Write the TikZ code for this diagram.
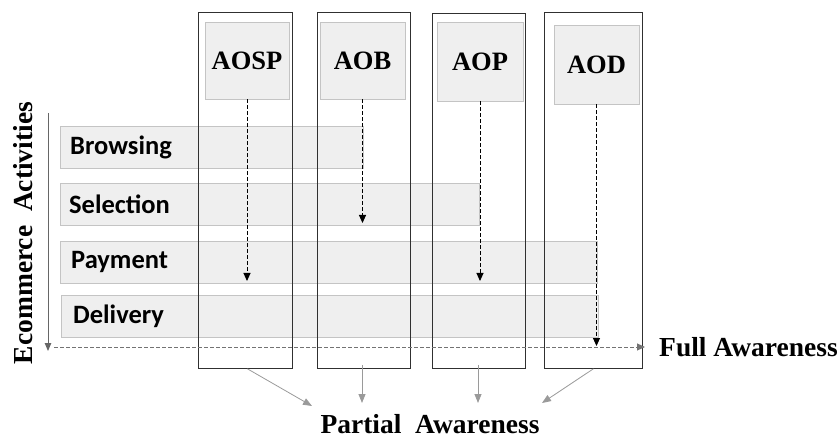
\documentclass[tikz,border=0pt]{standalone}
\usepackage{fontspec}
\setmainfont{Liberation Serif}
\newfontfamily\labfont{Carlito}
\usetikzlibrary{arrows.meta}
\definecolor{barfill}{HTML}{EFEFEF}
\definecolor{barline}{HTML}{C4C4C4}
\definecolor{colline}{HTML}{303030}
\definecolor{arrgray}{HTML}{9A9A9A}
\begin{document}
\begin{tikzpicture}[x=1pt,y=-1pt,
  colbox/.style={draw=colline,line width=0.8pt,fill=none,minimum height=356pt,inner sep=0pt,anchor=north west},
  aobox/.style={draw=barline,fill=barfill,line width=0.8pt,inner sep=0pt,minimum height=77pt,font=\bfseries\fontsize{26.5}{30}\selectfont},
  barbox/.style={draw=barline,fill=barfill,line width=0.8pt,inner sep=0pt,minimum height=42pt,anchor=north west},
  barlab/.style={anchor=west,inner sep=0pt,font=\labfont\bfseries\fontsize{26.5}{30}\selectfont},
  bigtxt/.style={inner sep=0pt,font=\bfseries\fontsize{27.5}{32}\selectfont},
  dasharr/.style={draw=black,line width=0.9pt,dash pattern=on 3.5pt off 2.5pt,-{Triangle[length=8pt,width=7pt]}},
  grayarr/.style={draw=arrgray,line width=0.9pt,-{Triangle[length=8pt,width=6.5pt]}},
  partarr/.style={draw=arrgray,line width=0.8pt,-{Triangle[length=9pt,width=7pt]}}]
\useasboundingbox (0,0) rectangle (838,438);
% activity bars
\node[barbox,minimum width=303pt] (brow) at (60,126) {};
\node[barbox,minimum width=419pt] (sel) at (60,183) {};
\node[barbox,minimum width=537pt] (pay) at (60,241) {};
\node[barbox,minimum width=537pt] (del) at (61,295) {};
\node[barlab] (browl) at ([xshift=10pt]brow.west) {Browsing};
\node[barlab] (sell) at ([xshift=9pt]sel.west) {Selection};
\node[barlab] (payl) at ([xshift=11pt]pay.west) {Payment};
\node[barlab] (dell) at ([xshift=12pt]del.west) {Delivery};
% columns
\node[colbox,minimum width=94pt] (c1) at (198,12) {};
\node[colbox,minimum width=93pt] (c2) at (317,12) {};
\node[colbox,minimum width=93pt,minimum height=355pt] (c3) at (432,13) {};
\node[colbox,minimum width=98pt] (c4) at (544,12) {};
% AO boxes
\node[aobox,minimum width=84pt] (aosp) at (247,60.5) {AOSP};
\node[aobox,minimum width=85pt] (aob) at (362.5,60.5) {AOB};
\node[aobox,minimum width=86pt,minimum height=79pt] (aop) at (480,61.5) {AOP};
\node[aobox,minimum width=85pt,minimum height=79pt] (aod) at (596.5,64.5) {AOD};
% dashed arrows
\coordinate (e1) at (247,281);
\coordinate (e2) at (362.5,223);
\coordinate (e3) at (480,281);
\coordinate (e4) at (596.5,346);
\draw[dasharr] (aosp.south) -- (e1);
\draw[dasharr] (aob.south) -- (e2);
\draw[dasharr] (aop.south) -- (e3);
\draw[dasharr] (aod.south) -- (e4);
% axis
\coordinate (vtop) at (48,113);
\coordinate (vbot) at (48,351);
\draw[grayarr,draw=black!60] (vtop) -- (vbot);
\node[bigtxt,rotate=90] (eca) at (23,233) {Ecommerce\ \ Activities};
\node[bigtxt,anchor=west] (full) at (659,347) {Full Awareness};
\coordinate (hstart) at (54,347);
\draw[dasharr,draw=black!55] (hstart) -- (full.west -| 645,0);
% partial awareness
\node[bigtxt] (part) at (430,424) {Partial\ \ Awareness};
\coordinate (p1) at (312,406);
\coordinate (p2) at (362,403);
\coordinate (p3) at (478,403);
\coordinate (p4) at (542,403);
\draw[partarr] ([xshift=2pt]c1.south) -- (p1);
\draw[partarr] ([yshift=4pt]c2.south -| p2) -- (p2);
\draw[partarr] ([yshift=4pt]c3.south -| p3) -- (p3);
\draw[partarr] ([xshift=0pt]c4.south) -- (p4);
\end{tikzpicture}
\end{document}
